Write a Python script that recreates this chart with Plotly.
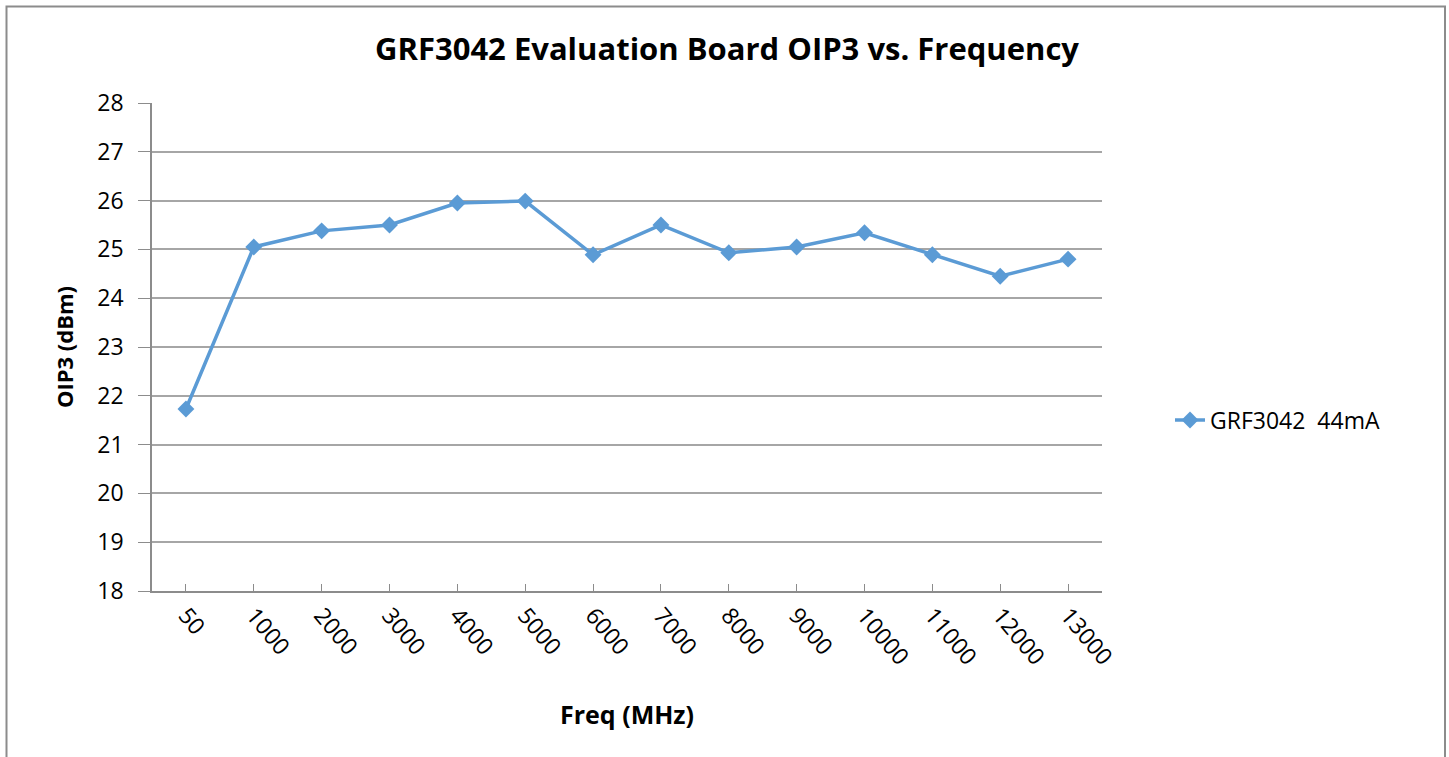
import plotly.graph_objects as go

freq_labels = ["50", "1000", "2000", "3000", "4000", "5000", "6000", "7000",
               "8000", "9000", "10000", "11000", "12000", "13000"]
oip3_44mA = [21.73, 25.05, 25.38, 25.50, 25.95, 25.99, 24.89, 25.50,
             24.93, 25.05, 25.34, 24.89, 24.45, 24.80]
y_ticks = list(range(18, 29))

FONT = "Open Sans"
color = "#5B9BD5"

W, H = 1449, 757
L, R, T, B = 152, 1102, 103, 591
PW, PH = R - L, B - T

fig = go.Figure()
fig.add_trace(go.Scatter(
    x=freq_labels, y=oip3_44mA, mode="lines+markers",
    name="GRF3042  44mA",
    line=dict(color=color, width=3.5),
    marker=dict(symbol="diamond", size=13, color=color),
))

fig.update_layout(
    width=W, height=H,
    margin=dict(l=L, r=W - R, t=T, b=H - B),
    paper_bgcolor="white", plot_bgcolor="white",
    font=dict(family=FONT, color="#000000"),
    title=dict(text="<b>GRF3042 Evaluation Board OIP3 vs. Frequency</b>",
               x=727 / W, xref="container", xanchor="center",
               y=1 - 49 / H, yref="container", yanchor="middle",
               font=dict(family=FONT, size=31, color="#000000")),
    showlegend=True,
    legend=dict(x=(1170 - L) / PW, y=(B - 420) / PH, xanchor="left", yanchor="middle",
                font=dict(family=FONT, size=23, color="#000000"),
                bgcolor="rgba(0,0,0,0)"),
    shapes=[dict(type="rect", xref="paper", yref="paper",
                 x0=(6.5 - L) / PW, x1=(1445 - L) / PW,
                 y0=-0.5, y1=(B - 6.5) / PH,
                 line=dict(color="#8c8c8c", width=2), layer="below")],
)

fig.update_xaxes(
    type="category", range=[-0.5, len(freq_labels) - 0.5],
    showline=True, linecolor="#8c8c8c", linewidth=1.5,
    showgrid=False, ticks="inside", ticklen=7, tickcolor="#8c8c8c",
    tickangle=50, tickfont=dict(family=FONT, size=23, color="#000000"),
    title=dict(text="<b>Freq (MHz)</b>", font=dict(family=FONT, size=25, color="#000000"),
               standoff=36),
    zeroline=False,
)
fig.update_yaxes(
    range=[18, 28], tickvals=y_ticks,
    showline=True, linecolor="#8c8c8c", linewidth=1.5,
    showgrid=True, gridcolor="#a6a6a6", gridwidth=1.5,
    ticks="outside", ticklen=12, tickcolor="#8c8c8c",
    ticklabelstandoff=10,
    tickfont=dict(family=FONT, size=23, color="#000000"),
    title=dict(text="<b>OIP3 (dBm)</b>", font=dict(family=FONT, size=22, color="#000000"),
               standoff=18),
    zeroline=False,
)

fig.write_html("out.html", config={"displayModeBar": False},
               post_script="document.body.style.margin='0';")
